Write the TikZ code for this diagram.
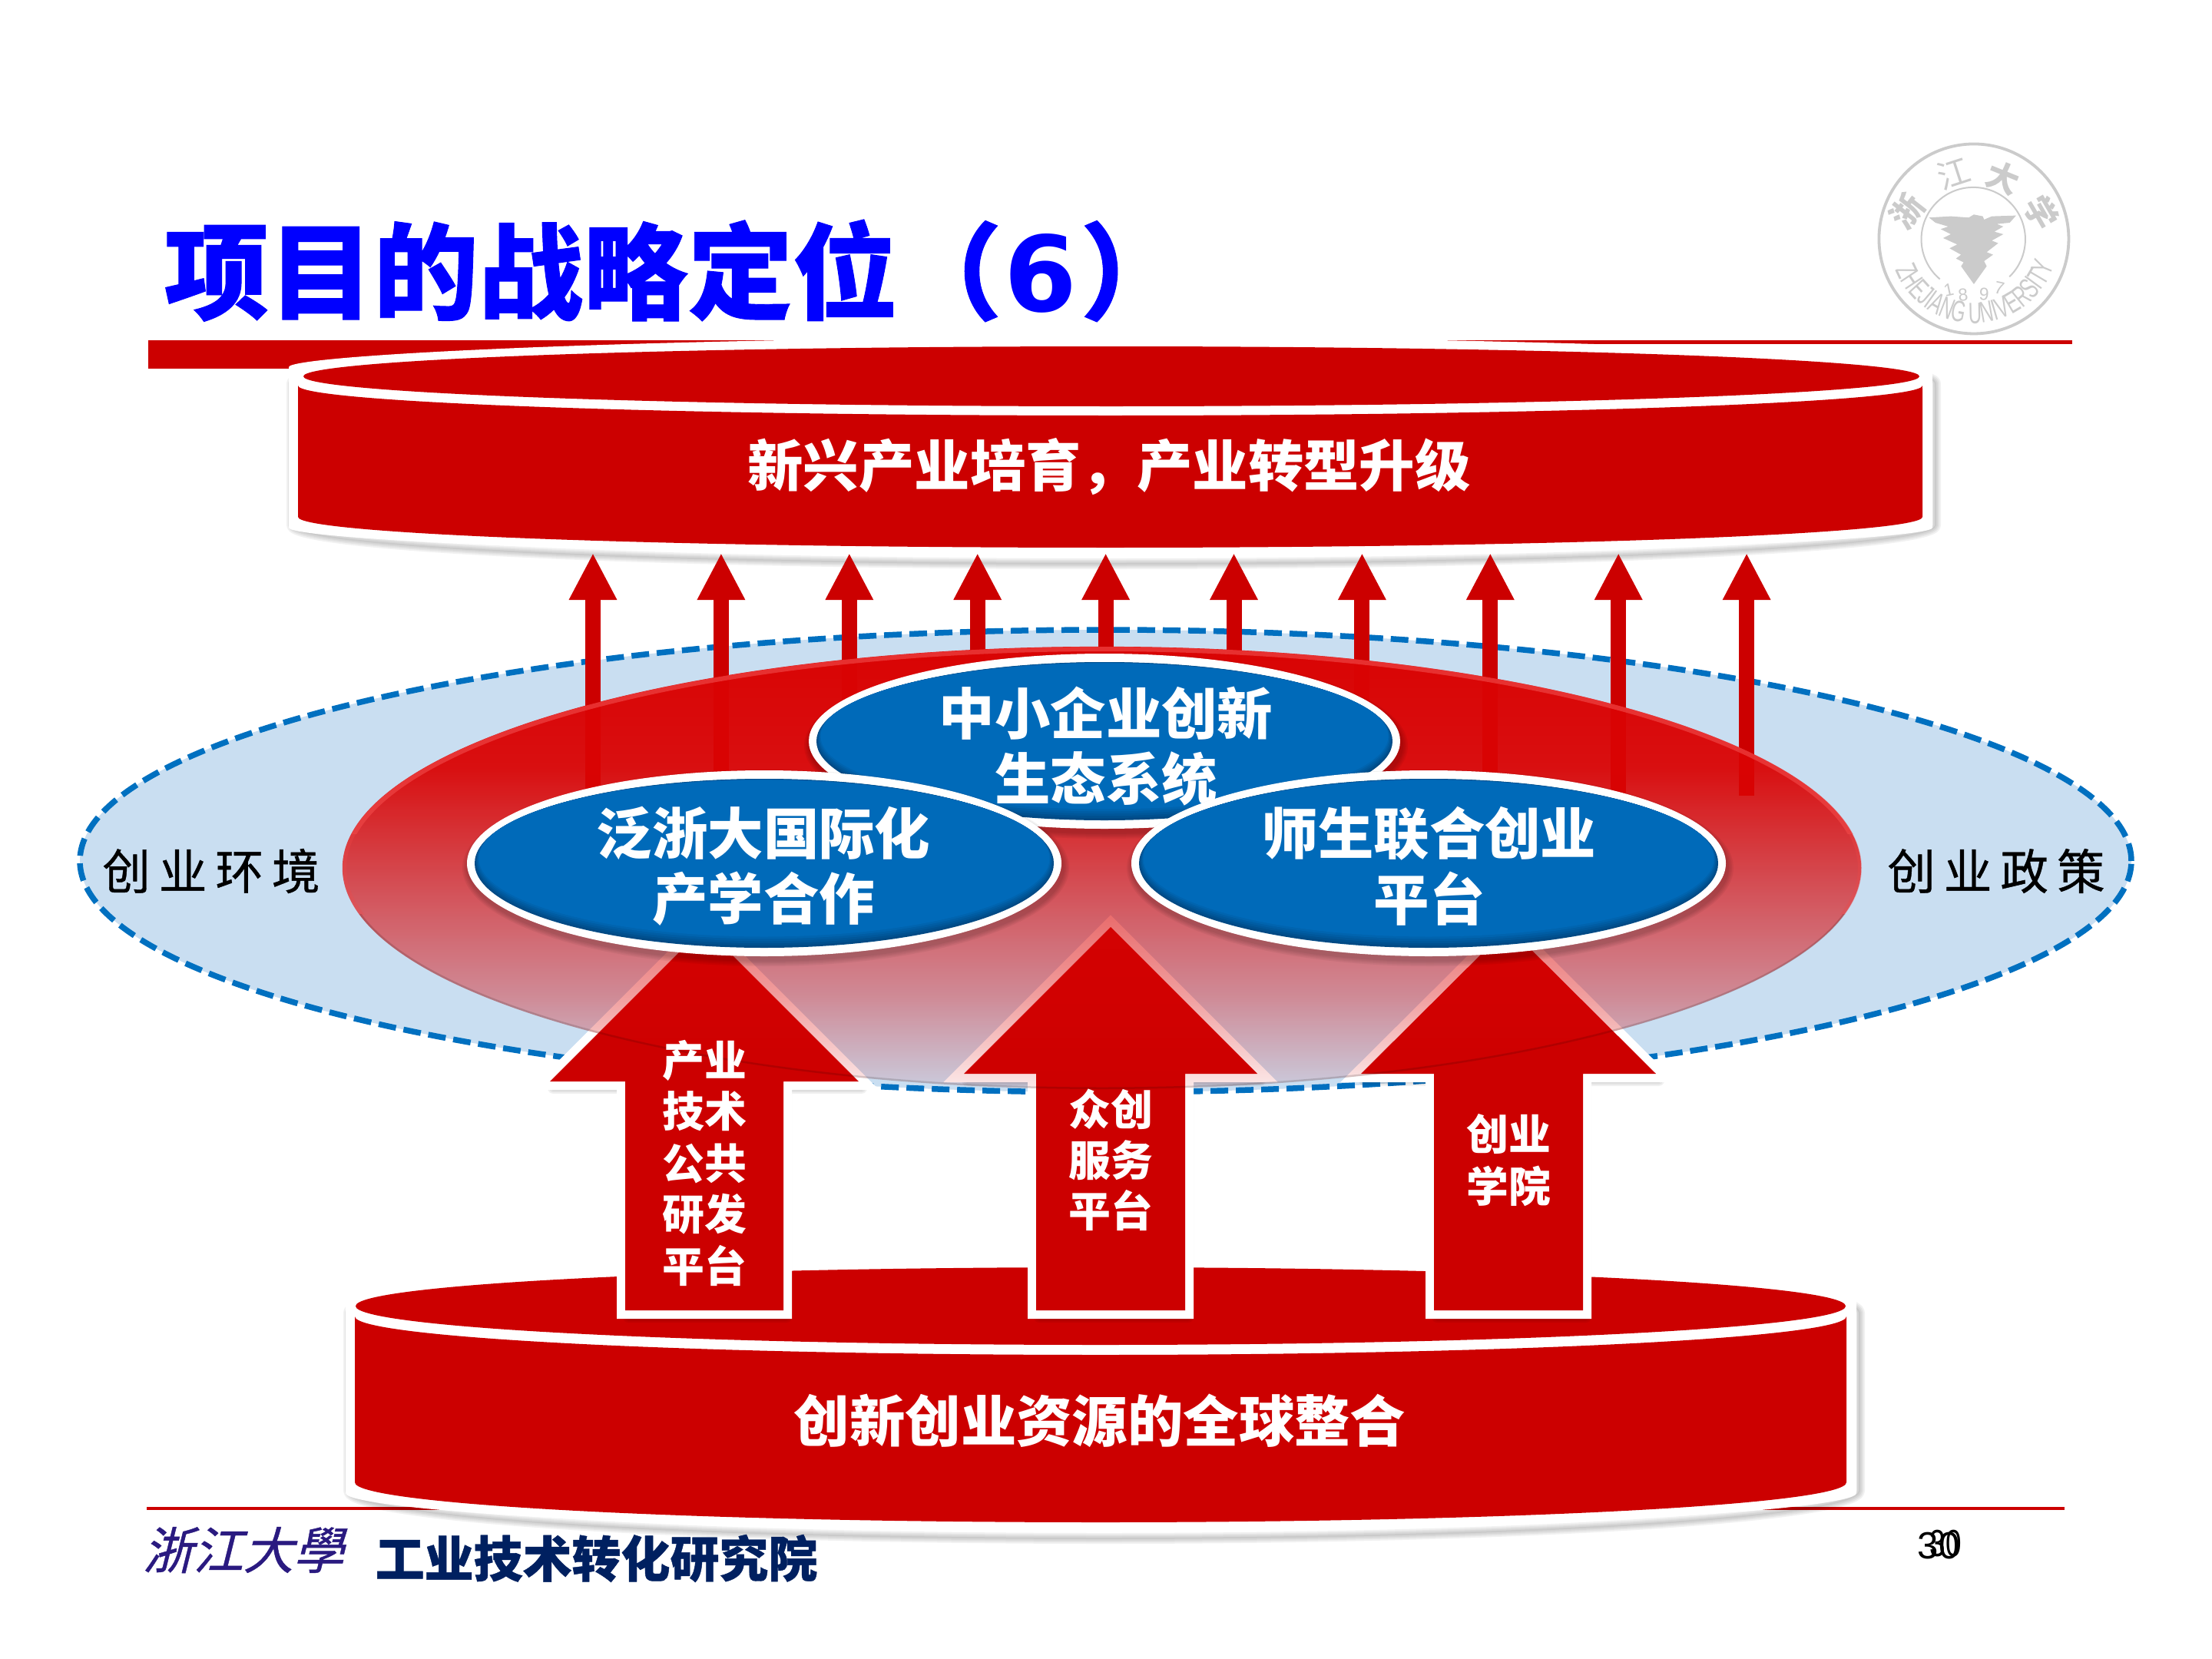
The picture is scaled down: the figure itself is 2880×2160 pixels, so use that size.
\documentclass[tikz,border=0pt]{standalone}
\usepackage{fontspec}
\usetikzlibrary{arrows.meta,fadings,decorations.text}
\newfontfamily\cjk{Noto Sans CJK SC}
\newfontfamily\cjkfb[FakeBold=0.7]{Noto Sans CJK SC}
\newfontfamily\cjkheavy[BoldFeatures={FakeBold=0.7}]{Noto Sans CJK SC}
\newfontfamily\latb{DejaVu Sans}
\newfontfamily\libs{Liberation Sans}
\newfontfamily\sealfont[FakeStretch=0.62]{Liberation Sans}
\definecolor{cylred}{HTML}{CC0000}
\definecolor{arrowred}{HTML}{CC0000}
\definecolor{ovalred}{HTML}{DA0404}
\definecolor{rimred}{HTML}{F04848}
\definecolor{paleblue}{HTML}{C9DEF1}
\definecolor{dashblue}{HTML}{0070C0}
\definecolor{blueB}{HTML}{006AB9}
\definecolor{blueD}{HTML}{004A85}
\definecolor{navy}{HTML}{002060}
\definecolor{inknavy}{HTML}{2A1A80}
\definecolor{sealgray}{HTML}{CBCBCB}
\pgfdeclareverticalshading{redshade}{100bp}{color(0bp)=(black!92); color(25bp)=(black!92); color(27.5bp)=(black!85); color(35.5bp)=(black!62); color(50bp)=(black!30); color(61.5bp)=(black!5); color(75bp)=(black!0); color(100bp)=(black!0)}
\pgfdeclarefading{redfade}{\pgfuseshading{redshade}}
\newcommand\topcylOuter{(376,490) arc[start angle=180,end angle=0,x radius=107mm,y radius=5.1mm] -- (2516,675) arc[start angle=0,end angle=-180,x radius=107mm,y radius=5mm] -- cycle}
\newcommand\botcylOuter{(450,1700) arc[start angle=180,end angle=0,x radius=98.35mm,y radius=6.2mm] -- (2417,1932) arc[start angle=0,end angle=-180,x radius=98.35mm,y radius=6.2mm] -- cycle}
\newcommand\bigarrowpath[6]{(#1,#6) -- ({#1+#4},#2) -- ({#1+#5},#2) -- ({#1+#5},#3) -- ({#1-#5},#3) -- ({#1-#5},#2) -- ({#1-#4},#2) -- cycle}
\newcommand\softshadow[3]{\foreach \w in {1,3,5,7} {\draw[black,opacity=.055,line width=\w*2*0.1mm,line join=round,shift={(#1,#2)}] #3;}}
\newcommand\bigarrow[6]{%
  \softshadow{4}{9}{\bigarrowpath{#1}{#2}{#3}{#4}{#5}{#6}}
  \draw[white,line width=2.2mm,miter limit=10] \bigarrowpath{#1}{#2}{#3}{#4}{#5}{#6};
  \fill[arrowred] \bigarrowpath{#1}{#2}{#3}{#4}{#5}{#6};}
\newcommand\blueoval[4]{%
  \foreach \w in {1,3,5,7} {\fill[black,opacity=.05] ({#1+2},{#2+6}) ellipse[x radius={(#3+11+\w)*0.1mm},y radius={(#4+11+\w)*0.1mm}];}
  \fill[white] (#1,#2) ellipse[x radius={(#3+10)*0.1mm},y radius={(#4+11)*0.1mm}];
  \foreach \k/\p in {0/0,1/20,2/40,3/60,4/80,5/100} {\fill[blueB!\p!blueD] ({#1},{#2-\k*1.3}) ellipse[x radius={(#3-\k*1.1)*0.1mm},y radius={(#4-\k*1.6)*0.1mm}];}}
\newcommand\redell{(1435,1130) ellipse[x radius=98.9mm,y radius=28.8mm]}
\tikzset{
  whitelabel/.style={text=white,inner sep=0pt,font=\cjk\bfseries\fontsize{20.6pt}{24pt}\selectfont},
  arrowlabel/.style={text=white,inner sep=0pt,font=\cjk\bfseries\fontsize{15.6pt}{18pt}\selectfont},
  blacklabel/.style={text=black,inner sep=0pt,font=\cjkfb\fontsize{17.8pt}{20pt}\selectfont},
  thinup/.style={arrowred,line width=2mm,-{Triangle[width=5.8mm,length=6.1mm]}}
}
\begin{document}
\begin{tikzpicture}[x=0.1mm,y=-0.1mm]
\useasboundingbox (0,0) rectangle (2880,2160);
\fill[white] (0,0) rectangle (2880,2160);
% master slide rules
\fill[cylred] (193,443) rectangle (1040,480);
\fill[cylred] (193,443) rectangle (2698,447.5);
\fill[cylred] (191,1962) rectangle (2688,1966);
% title
\node[anchor=base west,inner sep=0pt,text=blue,font=\cjkheavy\bfseries\fontsize{38.8pt}{42pt}\selectfont] (title) at (213,405) {项目的战略定位（\hspace{0.3mm}{\latb\bfseries 6}\hspace{0.4mm}）};
% seal
\begin{scope}[shift={(2300,150)},x=0.03333mm,y=-0.03333mm]
  \draw[sealgray,line width=0.38mm] (810,483) circle[radius=12.35mm];
  \draw[sealgray,line width=0.2mm] (949,631) arc[start angle=-46,end angle=230,radius=6.77mm];
  \fill[sealgray] (635,400) -- (720,395) -- (790,400) -- (810,388) -- (845,395) -- (850,408) -- (880,395) -- (975,392) -- (950,420) -- (900,425) -- (925,435) -- (890,455) -- (925,465) -- (880,490) -- (905,500) -- (860,535) -- (885,545) -- (850,570) -- (860,590) -- (810,660) -- (760,590) -- (770,575) -- (740,560) -- (760,545) -- (715,520) -- (745,505) -- (690,480) -- (720,465) -- (680,445) -- (710,435) -- (660,420) -- cycle;
  \path[decorate,decoration={text along path,text align=center,text={|\sealfont\fontsize{11pt}{12pt}\selectfont\color{sealgray}|ZHEJIANG UNIVERSITY}}] (493,574) arc[start angle=196,end angle=347,radius=11mm];
  \node[rotate=52,inner sep=0pt,text=sealgray,font=\cjk\bfseries\fontsize{12pt}{14pt}\selectfont] (sealA) at (550,375) {浙};
  \node[rotate=18,inner sep=0pt,text=sealgray,font=\cjk\fontsize{12pt}{14pt}\selectfont] (sealB) at (730,228) {江};
  \node[rotate=-22,inner sep=0pt,text=sealgray,font=\cjk\bfseries\fontsize{12pt}{14pt}\selectfont] (sealC) at (925,245) {大};
  \node[rotate=-60,inner sep=0pt,text=sealgray,font=\cjk\bfseries\fontsize{12pt}{14pt}\selectfont] (sealD) at (1075,380) {学};
  \node[rotate=12,inner sep=0pt,text=sealgray,font=\libs\fontsize{6.5pt}{7pt}\selectfont] (sealY1) at (712,683) {1};
  \node[rotate=6,inner sep=0pt,text=sealgray,font=\libs\fontsize{6.5pt}{7pt}\selectfont] (sealY2) at (768,703) {8};
  \node[rotate=-4,inner sep=0pt,text=sealgray,font=\libs\fontsize{6.5pt}{7pt}\selectfont] (sealY3) at (850,700) {9};
  \node[rotate=-12,inner sep=0pt,text=sealgray,font=\libs\fontsize{6.5pt}{7pt}\selectfont] (sealY4) at (910,675) {7};
\end{scope}
% top cylinder
\softshadow{4}{9}{\topcylOuter}
\fill[white,rounded corners=1.2mm] \topcylOuter;
\fill[cylred] (388,502) arc[start angle=180,end angle=360,x radius=105.75mm,y radius=3.9mm] -- (2503,673) arc[start angle=0,end angle=-180,x radius=105.75mm,y radius=4mm] -- cycle;
\fill[cylred] (1447,490) ellipse[x radius=105.2mm,y radius=3.9mm];
% bottom cylinder
\softshadow{4}{9}{\botcylOuter}
\fill[white,rounded corners=1.2mm] \botcylOuter;
\fill[cylred] (462,1714) arc[start angle=180,end angle=360,x radius=97.1mm,y radius=5mm] -- (2404,1930) arc[start angle=0,end angle=-180,x radius=97.1mm,y radius=5.2mm] -- cycle;
\fill[cylred] (1433,1700.5) ellipse[x radius=97mm,y radius=5.05mm];
% environment ellipse
\draw[dashblue,fill=paleblue,line width=0.75mm,dash pattern=on 2.3mm off 1mm] (1439.5,1121) ellipse[x radius=133.55mm,y radius=30.1mm];
% thin arrows
\foreach \i in {0,...,9} {
  \pgfmathsetmacro\ax{772+166.9*\i}
  \coordinate (thinS\i) at (\ax,1036);
  \coordinate (thinT\i) at (\ax,720);
  \draw[thinup] (thinS\i) -- (thinT\i);
}
% big arrows
\bigarrow{917}{1408}{1706}{201}{103}{1207}
\bigarrow{1446}{1398}{1706}{191}{97}{1207}
\bigarrow{1964}{1398}{1706}{192}{97}{1207}
% translucent red ellipse
\fill[ovalred,path fading=redfade] \redell;
\begin{scope}
  \clip \redell;
  \begin{scope}
    \clip (400,800) rectangle (2500,1085);
    \draw[rimred,line width=1.2mm,opacity=.65] \redell;
  \end{scope}
  \begin{scope}
    \clip (400,1085) rectangle (2500,1190);
    \draw[rimred,line width=1mm,opacity=.3] \redell;
  \end{scope}
  \begin{scope}
    \clip (400,1190) rectangle (2500,1450);
    \draw[black,line width=.5mm,opacity=.14] \redell;
  \end{scope}
\end{scope}
% blue ovals
\blueoval{1438}{965}{375}{103}
\node[whitelabel] (ovalTa) at (1440,929) {中小企业创新};
\node[whitelabel] (ovalTb) at (1440,1014) {生态系统};
\blueoval{995}{1124}{377}{110}
\blueoval{1860}{1124}{377}{110}
\node[whitelabel] (ovalLa) at (994,1085) {泛浙大国际化};
\node[whitelabel] (ovalLb) at (994,1170) {产学合作};
\node[whitelabel] (ovalRa) at (1861,1085) {师生联合创业};
\node[whitelabel] (ovalRb) at (1861,1170) {平台};
% arrow labels
\node[arrowlabel] (aA1) at (917,1381) {产业};
\node[arrowlabel] (aA2) at (917,1447) {技术};
\node[arrowlabel] (aA3) at (917,1515) {公共};
\node[arrowlabel] (aA4) at (917,1581) {研发};
\node[arrowlabel] (aA5) at (917,1648) {平台};
\node[arrowlabel] (aB1) at (1446,1444) {众创};
\node[arrowlabel] (aB2) at (1446,1511) {服务};
\node[arrowlabel] (aB3) at (1446,1576) {平台};
\node[arrowlabel] (aC1) at (1964,1477) {创业};
\node[arrowlabel] (aC2) at (1964,1544) {学院};
% cylinder labels
\node[whitelabel] (topText) at (1444,608) {新兴产业培育，产业转型升级};
\node[whitelabel] (botText) at (1432,1850) {创新创业资源的全球整合};
% side labels
\node[blacklabel] (leftText) at (275,1134) {创\hspace{1.1mm}业\hspace{1.1mm}环\hspace{1.1mm}境};
\node[blacklabel] (rightText) at (2599,1134) {创\hspace{1.1mm}业\hspace{1.1mm}政\hspace{1.1mm}策};
% footer
\node[inner sep=0pt,text=inknavy,xslant=0.25,font=\cjkfb\fontsize{18.6pt}{20pt}\selectfont] (logo) at (323,2018) {浙江大學};
\node[anchor=west,inner sep=0pt,text=navy,font=\cjkheavy\bfseries\fontsize{18.2pt}{20pt}\selectfont] (footer) at (488,2029) {工业技术转化研究院};
\node[inner sep=0pt,text=black,font=\libs\fontsize{14pt}{16pt}\selectfont] (pageA) at (2524,2013) {30};
\node[inner sep=0pt,text=black,xscale=.75,font=\libs\fontsize{14pt}{16pt}\selectfont] (pageB) at (2533,2010) {30};
\end{tikzpicture}
\end{document}
